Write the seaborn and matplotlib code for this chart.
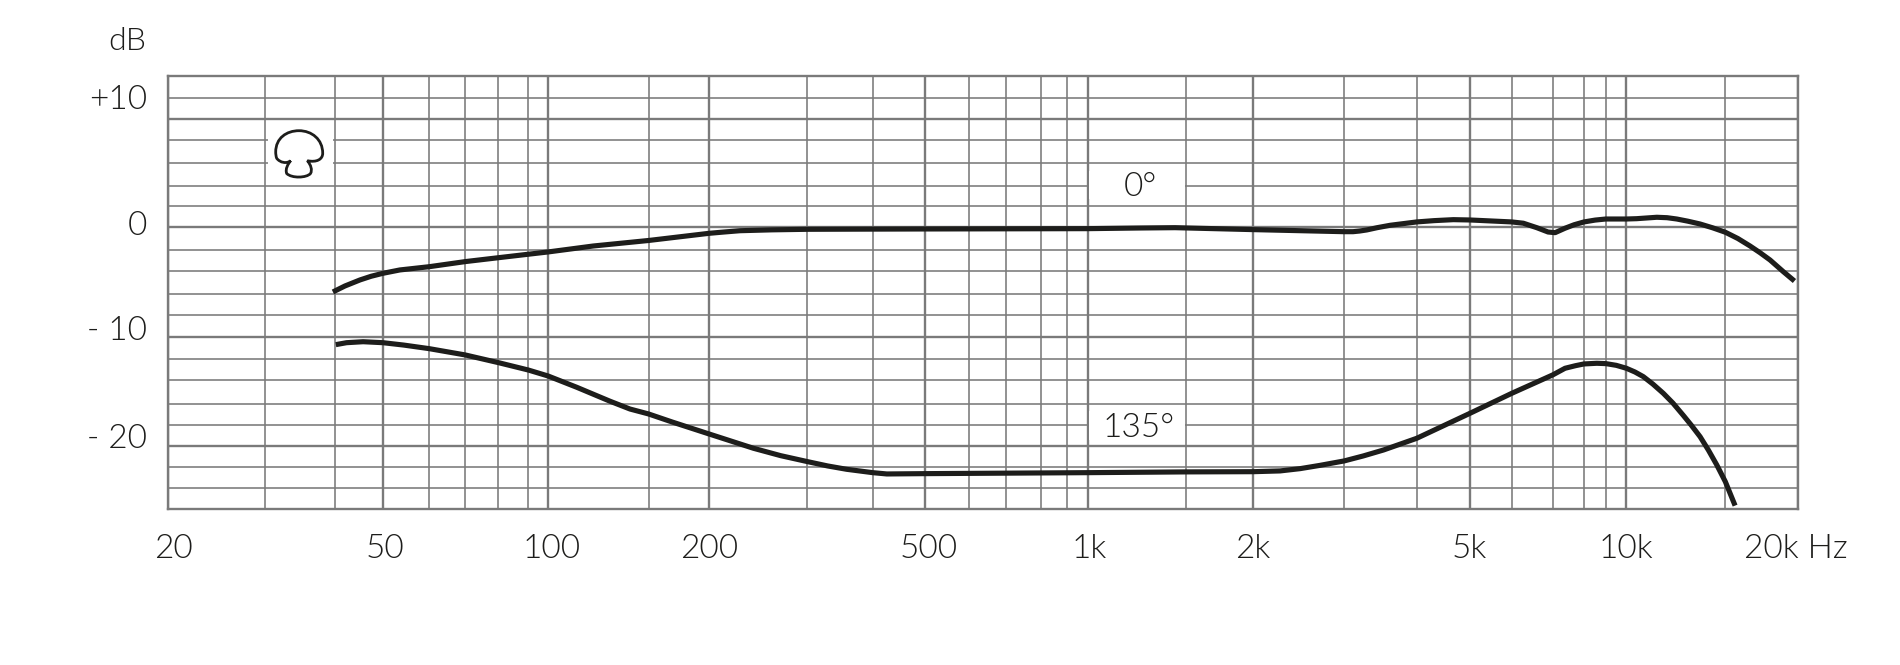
import matplotlib
matplotlib.use('Agg')
import matplotlib.pyplot as plt
import pandas as pd
import seaborn as sns
from matplotlib.patches import PathPatch, Rectangle
from matplotlib.path import Path
from matplotlib.transforms import Affine2D

# frequency response
hz_0 = [39.9, 42, 44.8, 47, 49.4, 53.1, 60.2, 70.2, 80.9, 91.9, 100, 121.3, 153.7, 198.9, 212, 227,
        260, 302.7, 501, 1002, 1253, 1455, 2033, 2995, 3112, 3200, 3300, 3450, 3646, 4085, 4400,
        4777, 5130, 6130, 6442, 6821, 7158, 7376, 7696, 8000, 8346, 8750, 9158, 10000, 10450,
        11390, 11900, 12400, 13000, 13700, 14450, 15260, 16100, 16960, 17700, 18470, 19550, 20500]
db_0 = [-5.95, -5.4, -4.84, -4.5, -4.23, -3.92, -3.62, -3.15, -2.79, -2.47, -2.26, -1.71, -1.2, -0.54,
        -0.42, -0.3, -0.22, -0.17, -0.14, -0.11, -0.05, -0.02, -0.2, -0.39, -0.39, -0.33, -0.23, -0.02,
        0.2, 0.51, 0.63, 0.72, 0.69, 0.51, 0.39, -0.02, -0.42, -0.48, -0.07, 0.25, 0.51, 0.68, 0.78,
        0.78, 0.81, 0.94, 0.9, 0.78, 0.58, 0.32, -0.03, -0.44, -1.02, -1.71, -2.33, -3.0, -4.08, -4.94]
hz_135 = [40.4, 42.3, 45.4, 49.4, 54, 60.2, 70.2, 80.9, 91.9, 100, 113, 130.3, 141.9, 153.5, 170,
          198.9, 240.4, 270, 302.7, 330, 358, 400.2, 425, 501, 1002, 1525, 2033, 2279, 2482, 2700, 2995,
          3250, 3544, 4085, 5130, 6130, 7304, 7696, 8050, 8346, 8813, 9158, 9580, 10000, 10370, 10750,
          11200, 11710, 12200, 12760, 13200, 13700, 14200, 14710, 15260, 15910]
db_135 = [-10.81, -10.63, -10.54, -10.63, -10.85, -11.18, -11.76, -12.47, -13.15, -13.7, -14.74, -16.03,
          -16.75, -17.2, -17.95, -19.05, -20.37, -21.05, -21.6, -22.0, -22.31, -22.62, -22.74, -22.71,
          -22.62, -22.55, -22.53, -22.46, -22.25, -21.95, -21.54, -21.08, -20.53, -19.45, -17.14, -15.3,
          -13.6, -12.99, -12.75, -12.59, -12.53, -12.56, -12.72, -12.99, -13.33, -13.76, -14.45, -15.3,
          -16.2, -17.35, -18.25, -19.3, -20.55, -21.9, -23.45, -25.66]

# the printed grid is not quite a true log grid, so the lines are read off as well
major_hz = [19.73, 49.4, 100, 198.9, 501, 1002, 2033, 5130, 10000, 20840]
major_hz_labels = ['20', '50', '100', '200', '500', '1k', '2k', '5k', '10k', '20k Hz']
minor_hz = [29.9, 40.3, 60.2, 70.2, 80.9, 91.9, 153.7, 302.7, 400.2, 603.7, 707, 822, 916,
            1525, 2995, 4081, 6130, 7304, 8346, 9158, 15260]
major_db = [10, 0, -10.09, -20.2]
major_db_labels = ['+10', '0', '- 10', '- 20']
minor_db = [11.92, 8.07, 5.95, 3.86, 1.96, -2.12, -4.03, -6.18, -8.12, -12.1, -14.1, -16.3,
            -18.2, -22.1, -24]

GRID = '#7a7a7a'
INK = '#1d1d1b'
W, H = 1900, 665

sns.set_theme(style='white')
plt.rcParams['font.family'] = ['Lato', 'DejaVu Sans']
plt.rcParams['font.weight'] = 300

df = pd.concat([
    pd.DataFrame({'hz': hz_0, 'db': db_0, 'angle': '0°'}),
    pd.DataFrame({'hz': hz_135, 'db': db_135, 'angle': '135°'}),
])

fig = plt.figure(figsize=(W / 100, H / 100), dpi=100)
ax = fig.add_axes([168 / W, 1 - 509.3 / H, 1630.3 / W, 433.6 / H])
ax.set_xscale('log')

sns.lineplot(data=df, x='hz', y='db', hue='angle', palette=[INK, INK], estimator=None,
             sort=False, legend=False, linewidth=3.7, solid_capstyle='butt', solid_joinstyle='round',
             ax=ax, zorder=3)

ax.set_xlim(19.73, 20840)
ax.set_ylim(-26, 14)
ax.set_xlabel('')
ax.set_ylabel('')
ax.set_xticks(major_hz, major_hz_labels)
ax.set_xticks(minor_hz, [''] * len(minor_hz), minor=True)
ax.set_yticks(major_db, major_db_labels)
ax.set_yticks(minor_db, [''] * len(minor_db), minor=True)
ax.tick_params(which='both', length=0, labelcolor=INK)
ax.tick_params(axis='x', labelsize=24, pad=18)
ax.tick_params(axis='y', labelsize=24, pad=15)
ax.set_axisbelow(True)
ax.grid(True, which='major', color=GRID, linewidth=1.7)
ax.grid(True, which='minor', color=GRID, linewidth=1.15)
for spine in ax.spines.values():
    spine.set_visible(True)
    spine.set_color(GRID)
    spine.set_linewidth(1.7)

# labels in the source sit a little off their grid lines
for label, dx in zip(ax.get_xticklabels(), [5, 2, 4, 0, 3, 2, -1, -1, -1, -2]):
    label.set_transform(label.get_transform() + Affine2D().translate(dx, 0))
for label, dy in zip(ax.get_yticklabels(), [22, 4, 9, 10]):
    label.set_transform(label.get_transform() + Affine2D().translate(0, dy))

# white gaps in the grid behind the curve labels and the icon
for x0, x1, y0, y1 in [(1008, 1518, 2.6, 5.2), (1008, 1518, -19.6, -16.9), (30.2, 40, 4.9, 9.1)]:
    ax.add_patch(Rectangle((x0, y0), x1 - x0, y1 - y0, facecolor='white', edgecolor='none', zorder=1))

ax.text(1255, 3.7, '0°', fontsize=24, color=INK, ha='center', va='center')
ax.text(1245, -18.5, '135°', fontsize=24, color=INK, ha='center', va='center')
fig.text(146 / W, 1 - 41.7 / H, 'dB', fontsize=23, color=INK, ha='right', va='center')

# mushroom icon, outline in picture pixels
icon = Path(
    [(290.7, 160.7), (286.7, 164), (280, 162.7), (276.7, 158.3),
     (276, 156.5), (275.7, 154), (275.7, 152),
     (275.7, 138), (286.7, 130.7), (299, 130.7),
     (311.7, 130.7), (322.7, 139.3), (322.7, 153.3),
     (322.7, 159.3), (316.7, 162.7), (307.3, 160.7),
     (311, 165), (312.5, 170), (310.5, 173.5),
     (306.7, 178), (291.7, 178.5), (286.7, 173.5),
     (285, 169), (288, 164), (290.7, 160.7)],
    [Path.MOVETO] + [Path.CURVE4] * 24)
ax.add_patch(PathPatch(icon, transform=Affine2D().scale(1, -1).translate(0, H), facecolor='none',
                       edgecolor=INK, linewidth=2.0, zorder=4, clip_on=False))

fig.savefig('out.png', dpi=100, facecolor='white')
